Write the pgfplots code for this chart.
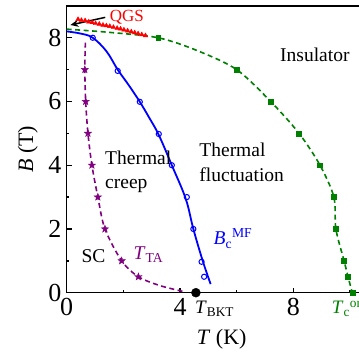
\documentclass[border=0pt]{standalone}
\usepackage{pgfplots}
\pgfplotsset{compat=1.18}
\usepackage{fontspec}
\setmainfont{Liberation Serif}
\usetikzlibrary{arrows.meta}

\definecolor{ongreen}{RGB}{0,128,0}
\definecolor{tapurple}{RGB}{128,0,128}

% filled five-pointed star
\pgfdeclareplotmark{fstar}{%
  \pgfpathmoveto{\pgfpointpolar{90}{\pgfplotmarksize}}%
  \pgfpathlineto{\pgfpointpolar{126}{0.42\pgfplotmarksize}}%
  \pgfpathlineto{\pgfpointpolar{162}{\pgfplotmarksize}}%
  \pgfpathlineto{\pgfpointpolar{198}{0.42\pgfplotmarksize}}%
  \pgfpathlineto{\pgfpointpolar{234}{\pgfplotmarksize}}%
  \pgfpathlineto{\pgfpointpolar{270}{0.42\pgfplotmarksize}}%
  \pgfpathlineto{\pgfpointpolar{306}{\pgfplotmarksize}}%
  \pgfpathlineto{\pgfpointpolar{342}{0.42\pgfplotmarksize}}%
  \pgfpathlineto{\pgfpointpolar{18}{\pgfplotmarksize}}%
  \pgfpathlineto{\pgfpointpolar{54}{0.42\pgfplotmarksize}}%
  \pgfpathclose\pgfusepathqfillstroke}

\newcommand\lbl{\fontsize{19.5}{23}\selectfont}

\begin{document}
\begin{tikzpicture}
\useasboundingbox (-66.7pt,-65.3pt) rectangle (292.3pt,292.7pt);
\clip (-66.7pt,-65.3pt) rectangle (292.3pt,292.7pt);
\begin{axis}[
  at={(0pt,0pt)}, anchor=south west,
  scale only axis, width=297.5pt, height=286.8pt,
  xmin=0, xmax=10.5, ymin=0, ymax=9,
  clip=false,
  axis line style={line width=1.6pt},
  tick pos=left, tick align=inside,
  xtick={0,4,8}, xticklabels={0,4,8}, minor xtick={2,6,10},
  ytick={0,2,4,6,8}, yticklabels={0,2,4,6,8}, minor ytick={1,3,5,7},
  major tick length=5pt, minor tick length=2.7pt,
  every tick/.style={line width=1.4pt, black},
  tick label style={font=\fontsize{26}{29}\selectfont},
  xticklabel style={anchor=north, yshift=-3pt, inner sep=2pt},
  yticklabel style={anchor=east, inner sep=2pt, xshift=-3pt},
  xlabel={\textit{T} (K)}, ylabel={\textit{B} (T)},
  label style={font=\fontsize{22}{25}\selectfont},
  xlabel style={at={(axis description cs:0.521,-0.182)}, anchor=base},
  ylabel style={at={(axis description cs:-0.113,0.5)}, anchor=base},
]

% onset temperature: guide line and data
\addplot[ongreen, line width=1.6pt, dash pattern=on 5pt off 3.5pt, smooth, tension=0.5]
  coordinates {(0,8.27) (1.5,8.17) (3.23,8.0) (4.6,7.6) (6.0,7.0) (7.2,6.0)
               (8.2,5.0) (8.94,4.0) (9.43,3.0) (9.5,2.0) (9.79,1.0) (9.93,0.5) (10.08,0)};
\addplot[only marks, mark=square*, mark size=2.4pt, ongreen]
  coordinates {(3.23,8.0) (6.0,7.0) (7.2,6.0) (8.2,5.0) (8.94,4.0) (9.43,3.0)
               (9.5,2.0) (9.79,1.0) (9.93,0.5) (10.08,0)};

% mean-field upper critical field
\addplot[blue, line width=1.8pt, smooth, tension=0.6]
  coordinates {(0,8.2) (0.5,8.13) (0.92,8.0) (1.4,7.58) (1.8,7.0) (2.2,6.5)
               (2.58,5.99) (2.92,5.48) (3.25,4.95) (3.71,4.0) (4.2,2.95)
               (4.47,2.0) (4.8,1.0) (5.08,0.27)};
\addplot[only marks, mark=o, mark size=2.6pt, blue, mark options={line width=1pt}]
  coordinates {(0.92,8.0) (1.8,6.96) (2.58,5.99) (3.25,4.98) (3.71,4.0)
               (4.24,3.0) (4.47,2.0) (4.76,0.97) (4.85,0.5)};

% thermally activated flux flow
\addplot[tapurple, line width=1.6pt, dash pattern=on 5pt off 3.5pt, smooth, tension=0.5]
  coordinates {(0.66,7.85) (0.64,7.0) (0.67,6.0) (0.75,5.0) (0.89,4.0) (1.1,3.0)
               (1.35,2.0) (1.94,1.0) (2.53,0.5) (3.3,0.22) (4.2,0.02)};
\addplot[only marks, mark=fstar, mark size=3.8pt, tapurple]
  coordinates {(0.64,7.0) (0.67,6.0) (0.75,5.0) (0.89,4.0) (1.1,3.0)
               (1.35,2.0) (1.94,1.0) (2.53,0.5)};

% quantum Griffiths singularity region
\addplot[only marks, mark=triangle*, mark size=2.6pt, red]
  coordinates {(0.40,8.58) (0.52,8.55) (0.65,8.54) (0.78,8.50) (0.90,8.48)
               (1.02,8.45) (1.15,8.43) (1.28,8.40) (1.40,8.38) (1.52,8.36)
               (1.65,8.33) (1.78,8.30) (1.90,8.28) (2.02,8.25) (2.15,8.22)
               (2.28,8.19) (2.40,8.16) (2.52,8.13) (2.65,8.10) (2.78,8.07)};
\draw[line width=1.5pt, -{Stealth[length=8pt,width=7pt]}]
  (axis cs:1.36,8.64) -- (axis cs:0.13,8.40);

% BKT transition
\addplot[only marks, mark=*, mark size=4.5pt, black] coordinates {(4.56,0)};

% labels
\node[anchor=base west, red, font=\fontsize{17}{20}\selectfont] at (axis cs:1.40,8.50) {QGS};
\node[anchor=base west, font=\lbl] at (axis cs:7.41,7.25) {Insulator};
\node[anchor=base west, font=\lbl] at (axis cs:4.56,4.27) {Thermal};
\node[anchor=base west, font=\lbl] at (axis cs:4.56,3.50) {fluctuation};
\node[anchor=base west, font=\lbl] at (axis cs:1.235,4.03) {Thermal};
\node[anchor=base west, font=\lbl] at (axis cs:1.235,3.26) {creep};
\node[anchor=base west, font=\lbl] at (axis cs:0.40,0.96) {SC};
\node[anchor=base west, tapurple, font=\lbl] at (axis cs:2.24,1.03) {\textit{T}\textsubscript{TA}};
\node[anchor=base west, blue, font=\lbl] at (axis cs:5.06,1.50) {\textit{B}\textsubscript{c}\textsuperscript{MF}};
\node[anchor=base west, font=\fontsize{19}{22}\selectfont, inner sep=0pt] at (axis cs:4.53,-0.65) {\textit{T}\textsubscript{BKT}};
\node[anchor=base west, ongreen, font=\fontsize{19}{22}\selectfont, inner sep=0pt] at (axis cs:9.35,-0.65) {\textit{T}\textsubscript{c}\textsuperscript{on}};
\end{axis}
\end{tikzpicture}
\end{document}
